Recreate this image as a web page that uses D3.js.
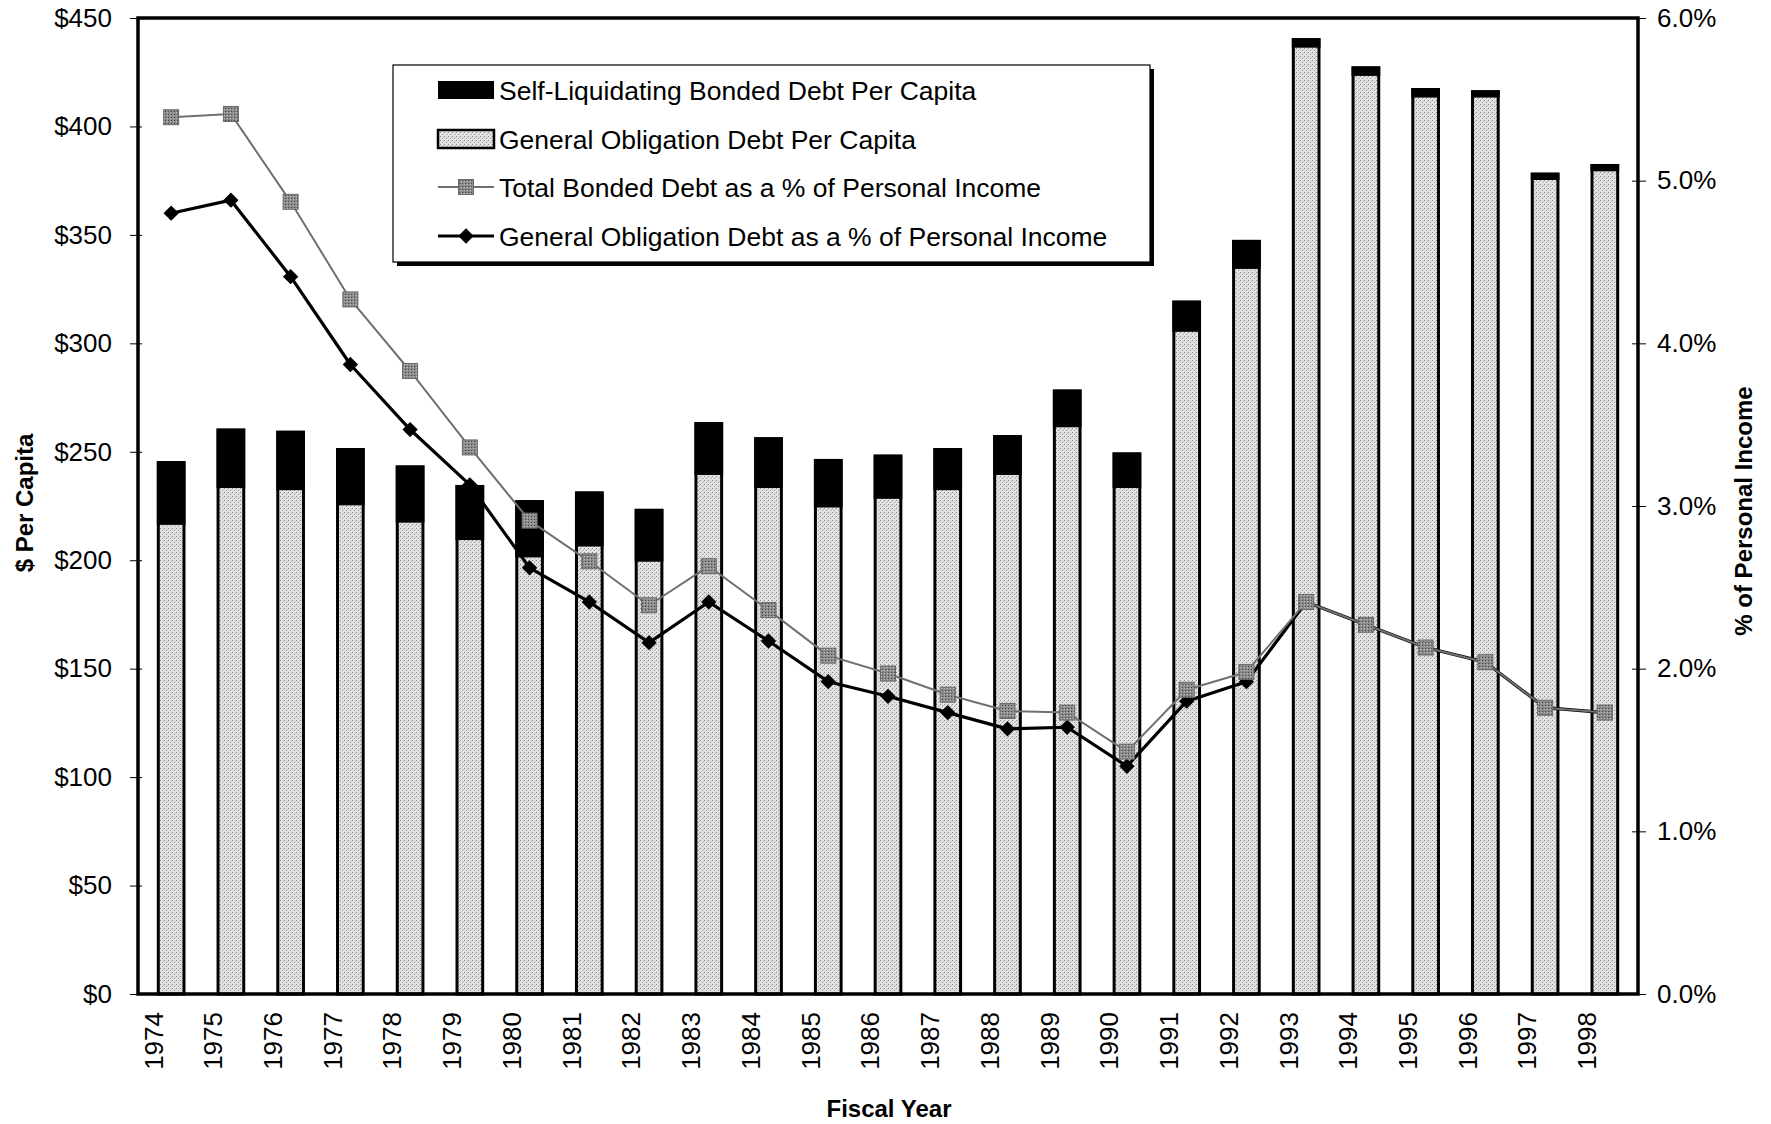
<!DOCTYPE html>
<html>
<head>
<meta charset="utf-8">
<script src="https://cdn.jsdelivr.net/npm/d3@7/dist/d3.min.js"></script>
<style>
  body { margin: 0; background: #fff; }
  svg text { font-family: "Liberation Sans", Arial, sans-serif; fill: #000; }
</style>
</head>
<body>
<svg id="chart" width="1771" height="1124"></svg>
<script>
// fiscal years
var years = ["1974", "1975", "1976", "1977", "1978", "1979", "1980", "1981", "1982",
    "1983", "1984", "1985", "1986", "1987", "1988", "1989", "1990", "1991", "1992",
    "1993", "1994", "1995", "1996", "1997", "1998"];

// general obligation debt per capita ($)
var goPerCapita = [217, 234, 233, 226, 218, 210, 202, 207, 200,
    240, 234, 225, 229, 233, 240, 262, 234, 306, 335,
    437, 424, 414, 414, 376, 380];

// self-liquidating bonded debt per capita ($), stacked on top
var slPerCapita = [28, 26, 26, 25, 25, 24, 25, 24, 23,
    23, 22, 21, 19, 18, 17, 16, 15, 13, 12,
    3, 3, 3, 2, 2, 2];

// total bonded debt as % of personal income
var totalPct = [5.39, 5.41, 4.87, 4.27, 3.83, 3.36, 2.91, 2.66, 2.39,
    2.63, 2.36, 2.08, 1.97, 1.84, 1.74, 1.73, 1.49, 1.87, 1.98,
    2.41, 2.27, 2.13, 2.04, 1.76, 1.73];

// general obligation debt as % of personal income
var goPct = [4.80, 4.88, 4.41, 3.87, 3.47, 3.13, 2.62, 2.41, 2.16,
    2.41, 2.17, 1.92, 1.83, 1.73, 1.63, 1.64, 1.40, 1.80, 1.92,
    2.41, 2.27, 2.13, 2.04, 1.76, 1.73];

var dollarTicks = [0, 50, 100, 150, 200, 250, 300, 350, 400, 450];
var pctTicks = [0, 1, 2, 3, 4, 5, 6];

var legendItems = ["Self-Liquidating Bonded Debt Per Capita",
    "General Obligation Debt Per Capita",
    "Total Bonded Debt as a % of Personal Income",
    "General Obligation Debt as a % of Personal Income"];

var plotL = 138, plotR = 1638, plotT = 18, plotB = 994;

var svg = d3.select("#chart");
var defs = svg.append("defs");

// stipple texture for the light bars
var pat = defs.append("pattern").attr("id", "stipple")
    .attr("width", 4).attr("height", 4).attr("patternUnits", "userSpaceOnUse");
pat.append("rect").attr("width", 4).attr("height", 4).attr("fill", "#e2e2e2");
pat.append("rect").attr("x", 0).attr("y", 0).attr("width", 1).attr("height", 1).attr("fill", "#888");
pat.append("rect").attr("x", 2).attr("y", 2).attr("width", 1).attr("height", 1).attr("fill", "#a0a0a0");
pat.append("rect").attr("x", 3).attr("y", 1).attr("width", 1).attr("height", 1).attr("fill", "#c0c0c0");

// darker texture for the square markers
var pat2 = defs.append("pattern").attr("id", "stippleDark")
    .attr("width", 3).attr("height", 3).attr("patternUnits", "userSpaceOnUse");
pat2.append("rect").attr("width", 3).attr("height", 3).attr("fill", "#8c8c8c");
pat2.append("rect").attr("x", 0).attr("y", 0).attr("width", 1).attr("height", 1).attr("fill", "#444");
pat2.append("rect").attr("x", 2).attr("y", 1).attr("width", 1).attr("height", 1).attr("fill", "#bbb");

var x = d3.scaleBand().domain(years).range([plotL, plotR])
    .paddingInner(0.57).paddingOuter(0.34);
var yL = d3.scaleLinear().domain([0, 450]).range([plotB, plotT]);
var yR = d3.scaleLinear().domain([0, 6]).range([plotB, plotT]);

var cx = function (i) { return x(years[i]) + x.bandwidth() / 2; };

// bars
var bars = svg.append("g");
years.forEach(function (yr, i) {
    var bx = x(yr), bw = x.bandwidth();
    var tot = goPerCapita[i] + slPerCapita[i];
    bars.append("rect")
        .attr("x", bx).attr("y", yL(tot))
        .attr("width", bw).attr("height", yL(0) - yL(tot))
        .attr("fill", "url(#stipple)")
        .attr("stroke", "#000").attr("stroke-width", 3);
    bars.append("rect")
        .attr("x", bx).attr("y", yL(tot))
        .attr("width", bw).attr("height", yL(goPerCapita[i]) - yL(tot))
        .attr("fill", "#000")
        .attr("stroke", "#000").attr("stroke-width", 3);
});

// lines
var pctLine = d3.line().x(function (d, i) { return cx(i); }).y(function (d) { return yR(d); });

svg.append("path").datum(goPct)
    .attr("fill", "none").attr("stroke", "#000").attr("stroke-width", 3.2)
    .attr("stroke-linejoin", "round").attr("d", pctLine);

var diamond = d3.symbol().type(d3.symbolDiamond2).size(150);
svg.append("g").selectAll("path").data(goPct).enter().append("path")
    .attr("transform", function (d, i) { return "translate(" + cx(i) + "," + yR(d) + ")"; })
    .attr("d", diamond).attr("fill", "#000");

svg.append("path").datum(totalPct)
    .attr("fill", "none").attr("stroke", "#707070").attr("stroke-width", 2)
    .attr("stroke-linejoin", "round").attr("d", pctLine);

var sq = 15;
svg.append("g").selectAll("rect").data(totalPct).enter().append("rect")
    .attr("x", function (d, i) { return cx(i) - sq / 2; })
    .attr("y", function (d) { return yR(d) - sq / 2; })
    .attr("width", sq).attr("height", sq)
    .attr("fill", "url(#stippleDark)").attr("stroke", "#6a6a6a").attr("stroke-width", 1);

// plot frame
svg.append("rect").attr("x", plotL).attr("y", plotT)
    .attr("width", plotR - plotL).attr("height", plotB - plotT)
    .attr("fill", "none").attr("stroke", "#000").attr("stroke-width", 3.5);

// left axis
var axL = svg.append("g").attr("transform", "translate(" + plotL + ",0)")
    .call(d3.axisLeft(yL).tickValues(dollarTicks).tickSizeInner(8).tickSizeOuter(0)
        .tickFormat(function (d) { return "$" + d; }));
axL.select(".domain").remove();
axL.selectAll("line").attr("stroke", "#000").attr("x2", -8).attr("x1", 4);
axL.selectAll("text").attr("x", -26).style("font-size", "26px")
    .style("font-family", "Liberation Sans, Arial, sans-serif");

// right axis
var axR = svg.append("g").attr("transform", "translate(" + plotR + ",0)")
    .call(d3.axisRight(yR).tickValues(pctTicks).tickSizeInner(8).tickSizeOuter(0)
        .tickFormat(function (d) { return d.toFixed(1) + "%"; }));
axR.select(".domain").remove();
axR.selectAll("line").attr("stroke", "#000").attr("x1", -6).attr("x2", 8);
axR.selectAll("text").attr("x", 19).style("font-size", "26px")
    .style("font-family", "Liberation Sans, Arial, sans-serif");

// year labels
svg.append("g").selectAll("text").data(years).enter().append("text")
    .attr("transform", function (d, i) {
        return "translate(" + (cx(i) - 18) + "," + 1012 + ") rotate(-90)";
    })
    .attr("text-anchor", "end").attr("dy", "0.36em")
    .style("font-size", "26px")
    .text(function (d) { return d; });

// axis titles
svg.append("text").attr("x", 889).attr("y", 1117).attr("text-anchor", "middle")
    .style("font-size", "24px").style("font-weight", "bold").text("Fiscal Year");
svg.append("text").attr("transform", "translate(33,503) rotate(-90)")
    .attr("text-anchor", "middle")
    .style("font-size", "24px").style("font-weight", "bold").text("$ Per Capita");
svg.append("text").attr("transform", "translate(1752,511) rotate(-90)")
    .attr("text-anchor", "middle")
    .style("font-size", "24px").style("font-weight", "bold").text("% of Personal Income");

// legend
var lg = svg.append("g");
lg.append("rect").attr("x", 397).attr("y", 69).attr("width", 757).attr("height", 197).attr("fill", "#000");
lg.append("rect").attr("x", 393).attr("y", 65).attr("width", 757).attr("height", 197)
    .attr("fill", "#fff").attr("stroke", "#000").attr("stroke-width", 1.2);
var rowY = [90, 139, 187, 236];
var sx0 = 438, sx1 = 494;
lg.append("rect").attr("x", sx0).attr("y", rowY[0] - 9).attr("width", sx1 - sx0).attr("height", 18)
    .attr("fill", "#000");
lg.append("rect").attr("x", sx0).attr("y", rowY[1] - 9).attr("width", sx1 - sx0).attr("height", 18)
    .attr("fill", "url(#stipple)").attr("stroke", "#000").attr("stroke-width", 2.5);
lg.append("line").attr("x1", sx0).attr("x2", sx1).attr("y1", rowY[2]).attr("y2", rowY[2])
    .attr("stroke", "#707070").attr("stroke-width", 2);
lg.append("rect").attr("x", (sx0 + sx1) / 2 - sq / 2).attr("y", rowY[2] - sq / 2).attr("width", sq).attr("height", sq)
    .attr("fill", "url(#stippleDark)").attr("stroke", "#6a6a6a");
lg.append("line").attr("x1", sx0).attr("x2", sx1).attr("y1", rowY[3]).attr("y2", rowY[3])
    .attr("stroke", "#000").attr("stroke-width", 3.2);
lg.append("path").attr("transform", "translate(" + (sx0 + sx1) / 2 + "," + rowY[3] + ")")
    .attr("d", diamond).attr("fill", "#000");
lg.selectAll("text.item").data(legendItems).enter().append("text")
    .attr("class", "item")
    .attr("x", 499).attr("y", function (d, i) { return rowY[i]; })
    .attr("dy", "0.36em").style("font-size", "26.5px")
    .text(function (d) { return d; });
</script>
</body>
</html>
